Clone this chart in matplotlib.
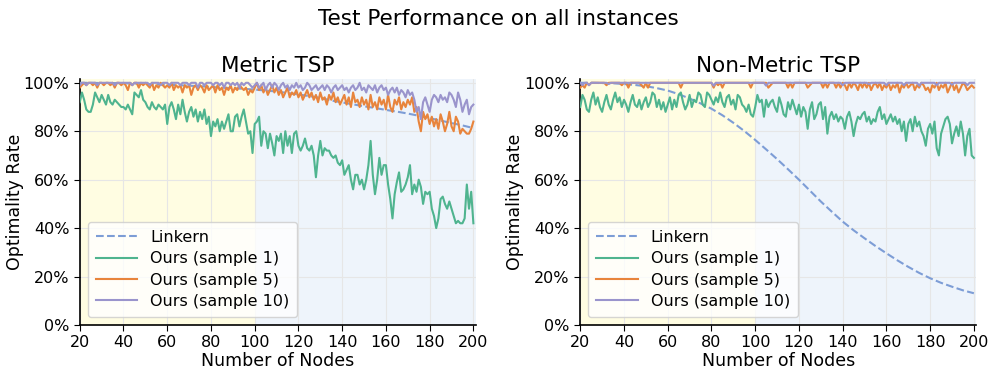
import matplotlib
matplotlib.use('Agg')
import matplotlib.pyplot as plt
from matplotlib.ticker import PercentFormatter
import numpy as np

plt.rcParams.update({'font.family': 'DejaVu Sans', 'font.size': 11})

nodes = np.arange(20, 201)
lk_nodes = np.arange(20, 201, 5)

# ---- Metric TSP ----
metric_linkern = [100, 100, 99.9, 99.9, 99.8, 99.7, 99.5, 99.4, 99.2, 99.0, 98.8, 98.6, 98.3,
                  98.0, 97.8, 97.5, 97.2, 96.8, 96.4, 95.8, 95.2, 94.5, 93.8, 92.7, 91.9, 91.1,
                  90.3, 89.6, 88.8, 88.1, 87.3, 86.4, 85.4, 84.4, 83.4, 82.4, 81.3]
metric_s1 = [92, 96, 93, 89, 88, 88, 91, 96, 94, 92,
             95, 93, 91, 95, 92, 91, 93, 92, 91, 90,
             90, 89, 91, 89, 87, 96, 95, 94, 97, 93,
             92, 90, 89, 92, 90, 89, 91, 90, 89, 91,
             83, 90, 92, 89, 85, 91, 87, 93, 88, 84,
             88, 90, 86, 89, 84, 88, 85, 89, 83, 86,
             78, 84, 82, 85, 80, 84, 81, 84, 87, 80,
             80, 86, 87, 82, 86, 89, 84, 79, 80, 71,
             83, 84, 86, 74, 80, 79, 73, 79, 75, 70,
             78, 76, 79, 71, 80, 74, 78, 71, 79, 80,
             74, 72, 74, 77, 73, 72, 74, 70, 61, 70,
             76, 70, 73, 72, 72, 70, 69, 70, 67, 66,
             68, 62, 64, 66, 60, 56, 62, 62, 58, 60,
             56, 60, 66, 76, 62, 54, 60, 69, 62, 66,
             66, 58, 52, 44, 54, 59, 63, 55, 56, 58,
             61, 66, 54, 58, 55, 60, 57, 50, 55, 54,
             55, 48, 45, 40, 44, 52, 53, 50, 48, 51,
             48, 45, 42, 43, 42, 42, 44, 58, 48, 55,
             42]
metric_s5 = [98, 99, 100, 99, 100, 100, 99, 100, 98, 100,
             100, 99, 100, 100, 99, 100, 98, 100, 100, 99,
             100, 99, 97, 100, 99, 100, 100, 98, 100, 99,
             100, 99, 98, 100, 97, 99, 98, 100, 99, 98,
             99, 98, 100, 97, 99, 98, 99, 96, 99, 98,
             99, 95, 98, 99, 97, 99, 98, 96, 99, 97,
             98, 99, 96, 99, 97, 98, 95, 98, 97, 99,
             96, 98, 97, 99, 98, 97, 98, 95, 97, 96,
             98, 100, 97, 99, 96, 98, 95, 97, 99, 96,
             98, 95, 97, 94, 96, 98, 94, 96, 95, 97,
             94, 96, 93, 95, 97, 94, 96, 93, 95, 92,
             96, 93, 94, 91, 95, 93, 96, 92, 94, 91,
             93, 95, 91, 94, 90, 96, 92, 93, 90, 94,
             91, 93, 89, 95, 90, 92, 89, 94, 91, 93,
             89, 95, 90, 88, 93, 91, 94, 89, 92, 90,
             93, 91, 94, 88, 90, 84, 80, 88, 85, 87,
             83, 86, 82, 85, 81, 87, 84, 80, 83, 88,
             82, 80, 86, 84, 79, 81, 80, 79, 79, 81,
             84]
metric_s10 = [99, 100, 100, 99, 100, 100, 100, 100, 99, 100,
              100, 100, 100, 100, 100, 100, 99, 100, 100, 100,
              100, 100, 100, 100, 99, 100, 100, 100, 100, 100,
              100, 100, 99, 100, 100, 100, 100, 99, 100, 100,
              100, 99, 100, 100, 100, 100, 99, 100, 100, 100,
              99, 100, 100, 100, 98, 100, 100, 99, 100, 100,
              100, 99, 100, 100, 99, 100, 98, 100, 100, 99,
              100, 99, 100, 98, 100, 99, 100, 100, 99, 98,
              99, 100, 98, 99, 100, 97, 99, 100, 98, 100,
              99, 97, 99, 100, 98, 99, 97, 99, 98, 100,
              98, 99, 97, 98, 100, 99, 97, 98, 99, 97,
              98, 99, 97, 99, 98, 96, 98, 99, 97, 98,
              99, 97, 98, 96, 98, 99, 97, 98, 100, 97,
              98, 96, 99, 98, 97, 99, 96, 98, 99, 97,
              98, 95, 97, 98, 96, 98, 95, 97, 96, 94,
              97, 95, 96, 93, 88, 90, 85, 92, 94, 91,
              88, 93, 95, 94, 92, 95, 93, 94, 92, 96,
              95, 93, 90, 96, 93, 88, 91, 93, 87, 90,
              91]

# ---- Non-Metric TSP ----
nonmetric_linkern = [100, 100, 99.9, 99.8, 99.5, 99.1, 98.6, 97.8, 96.8, 95.3, 93.5, 91.5, 89.3,
                     86.6, 83.5, 80.1, 76.4, 72.5, 68.5, 64.3, 60.0, 55.5, 51.0, 46.8, 42.7, 39.1,
                     35.8, 32.6, 29.6, 26.7, 24.0, 21.5, 19.3, 17.4, 15.8, 14.3, 13.1]
nonmetric_s1 = [90, 95, 93, 89, 88, 93, 96, 91, 94, 90,
                88, 92, 95, 91, 89, 93, 96, 92, 94, 90,
                93, 91, 88, 92, 95, 91, 90, 93, 89, 92,
                94, 90, 92, 96, 95, 90, 93, 89, 92, 88,
                91, 94, 89, 93, 90, 95, 96, 92, 89, 91,
                95, 90, 93, 92, 96, 95, 91, 90, 96, 95,
                93, 91, 94, 92, 96, 92, 90, 94, 95, 91,
                93, 89, 95, 94, 91, 90, 88, 91, 87, 86,
                90, 95, 92, 93, 86, 93, 90, 92, 93, 90,
                88, 94, 91, 87, 86, 92, 89, 93, 90, 87,
                91, 86, 90, 88, 81, 89, 92, 85, 87, 91,
                92, 85, 90, 79, 86, 88, 85, 87, 84, 86,
                85, 81, 86, 88, 84, 78, 83, 86, 85, 87,
                88, 84, 86, 83, 85, 84, 88, 90, 85, 87,
                83, 85, 87, 84, 86, 83, 85, 80, 84, 76,
                83, 85, 80, 86, 82, 84, 80, 78, 74, 81,
                83, 79, 84, 73, 70, 79, 82, 85, 86, 83,
                75, 79, 82, 78, 84, 79, 70, 78, 81, 70,
                69]
nonmetric_s5 = [98, 99, 98, 100, 99, 100, 100, 100, 100, 100,
                100, 100, 99, 100, 100, 100, 100, 100, 100, 99,
                100, 100, 98, 100, 100, 100, 100, 100, 99, 98,
                100, 98, 100, 100, 100, 100, 100, 100, 100, 100,
                100, 100, 100, 100, 100, 100, 98, 100, 100, 100,
                100, 100, 100, 100, 100, 100, 100, 100, 100, 100,
                100, 98, 100, 99, 100, 98, 100, 100, 100, 100,
                100, 100, 100, 100, 100, 100, 100, 100, 98, 100,
                100, 100, 100, 100, 100, 100, 98, 99, 100, 100,
                100, 100, 100, 100, 100, 98, 100, 98, 100, 100,
                100, 100, 100, 100, 98, 99, 100, 100, 100, 100,
                100, 98, 100, 98, 100, 100, 100, 98, 100, 98,
                100, 99, 97, 100, 98, 100, 99, 97, 100, 98,
                100, 98, 100, 97, 99, 100, 98, 100, 97, 99,
                98, 100, 97, 99, 98, 100, 96, 99, 98, 100,
                98, 99, 100, 97, 99, 98, 100, 99, 97, 98,
                96, 99, 98, 100, 97, 99, 98, 100, 96, 98,
                100, 97, 99, 96, 98, 100, 99, 97, 98, 99,
                98]
nonmetric_s10 = [100, 99, 100, 100, 99, 100, 100, 100, 100, 100,
                 100, 100, 100, 99.5, 100, 100, 100, 100, 100, 100,
                 100, 100, 100, 100, 100, 100, 100, 100, 100, 100,
                 100, 100, 100, 100, 100, 100, 100, 100, 100, 100,
                 100, 100, 100, 100, 100, 100, 100, 100, 100, 100,
                 100, 100, 100, 100, 100, 100, 100, 100, 100, 100,
                 100, 98.8, 100, 100, 100, 100, 100, 100, 100, 100,
                 100, 100, 100, 100, 100, 100, 100, 100, 100, 100,
                 100, 100, 100, 100, 100, 98.8, 100, 100, 100, 100,
                 100, 100, 100, 100, 100, 100, 100, 100, 100, 100,
                 100, 100, 100, 100, 100, 100, 100, 100, 100, 100,
                 100, 100, 100, 100, 100, 100, 100, 100, 100, 100,
                 99, 100, 100, 100, 100, 100, 100, 100, 100, 100,
                 100, 100, 99.5, 100, 100, 100, 100, 100, 100, 100,
                 99, 100, 100, 100, 100, 100, 100, 100, 99, 100,
                 100, 100, 100, 100, 100, 98.8, 100, 100, 100, 100,
                 100, 100, 100, 99, 100, 100, 100, 100, 100, 100,
                 99.2, 100, 100, 100, 100, 100, 100, 99, 100, 100,
                 100]

panels = [
    ('Metric TSP', metric_linkern, metric_s1, metric_s5, metric_s10),
    ('Non-Metric TSP', nonmetric_linkern, nonmetric_s1, nonmetric_s5, nonmetric_s10),
]

C_LK = '#7d9dd6'
C_S1 = '#4fb48f'
C_S5 = '#e8843c'
C_S10 = '#9a94cc'

fig = plt.figure(figsize=(9.97, 3.77), dpi=100)
lefts = [0.080, 0.582]
for (title, lk, s1, s5, s10), left in zip(panels, lefts):
    ax = fig.add_axes([left, 0.138, 0.397, 0.652])
    ax.axvspan(20, 100, color='#fffde2', zorder=0, lw=0)
    ax.axvspan(100, 201, color='#eef4fb', zorder=0, lw=0)
    ax.plot(lk_nodes, np.array(lk) / 100, '--', color=C_LK, lw=1.5, label='Linkern', zorder=3)
    ax.plot(nodes, np.array(s1) / 100, color=C_S1, lw=1.5, label='Ours (sample 1)', zorder=3)
    ax.plot(nodes, np.array(s5) / 100, color=C_S5, lw=1.5, label='Ours (sample 5)', zorder=3)
    ax.plot(nodes, np.array(s10) / 100, color=C_S10, lw=1.5, label='Ours (sample 10)', zorder=3)
    ax.set_xlim(20, 201)
    ax.set_ylim(0, 1.015)
    ax.set_xticks(np.arange(20, 201, 20))
    ax.set_yticks(np.arange(0, 1.01, 0.2))
    ax.yaxis.set_major_formatter(PercentFormatter(1.0, decimals=0))
    ax.grid(True, color='#e6e6e6', lw=0.8, zorder=1)
    ax.set_axisbelow(True)
    for s in ['top', 'right']:
        ax.spines[s].set_visible(False)
    ax.spines['left'].set_linewidth(1.2)
    ax.spines['bottom'].set_linewidth(1.2)
    ax.tick_params(labelsize=11.5, length=4)
    ax.set_title(title, fontsize=15.5, pad=5)
    ax.set_xlabel('Number of Nodes', fontsize=12.5, labelpad=1)
    ax.set_ylabel('Optimality Rate', fontsize=12.5, labelpad=0)
    ax.legend(loc='lower left', fontsize=11.5, framealpha=0.8, borderpad=0.5,
              handlelength=2.6, labelspacing=0.4)

fig.suptitle('Test Performance on all instances', fontsize=15.5, y=0.975)
fig.savefig('out.png', dpi=100)
